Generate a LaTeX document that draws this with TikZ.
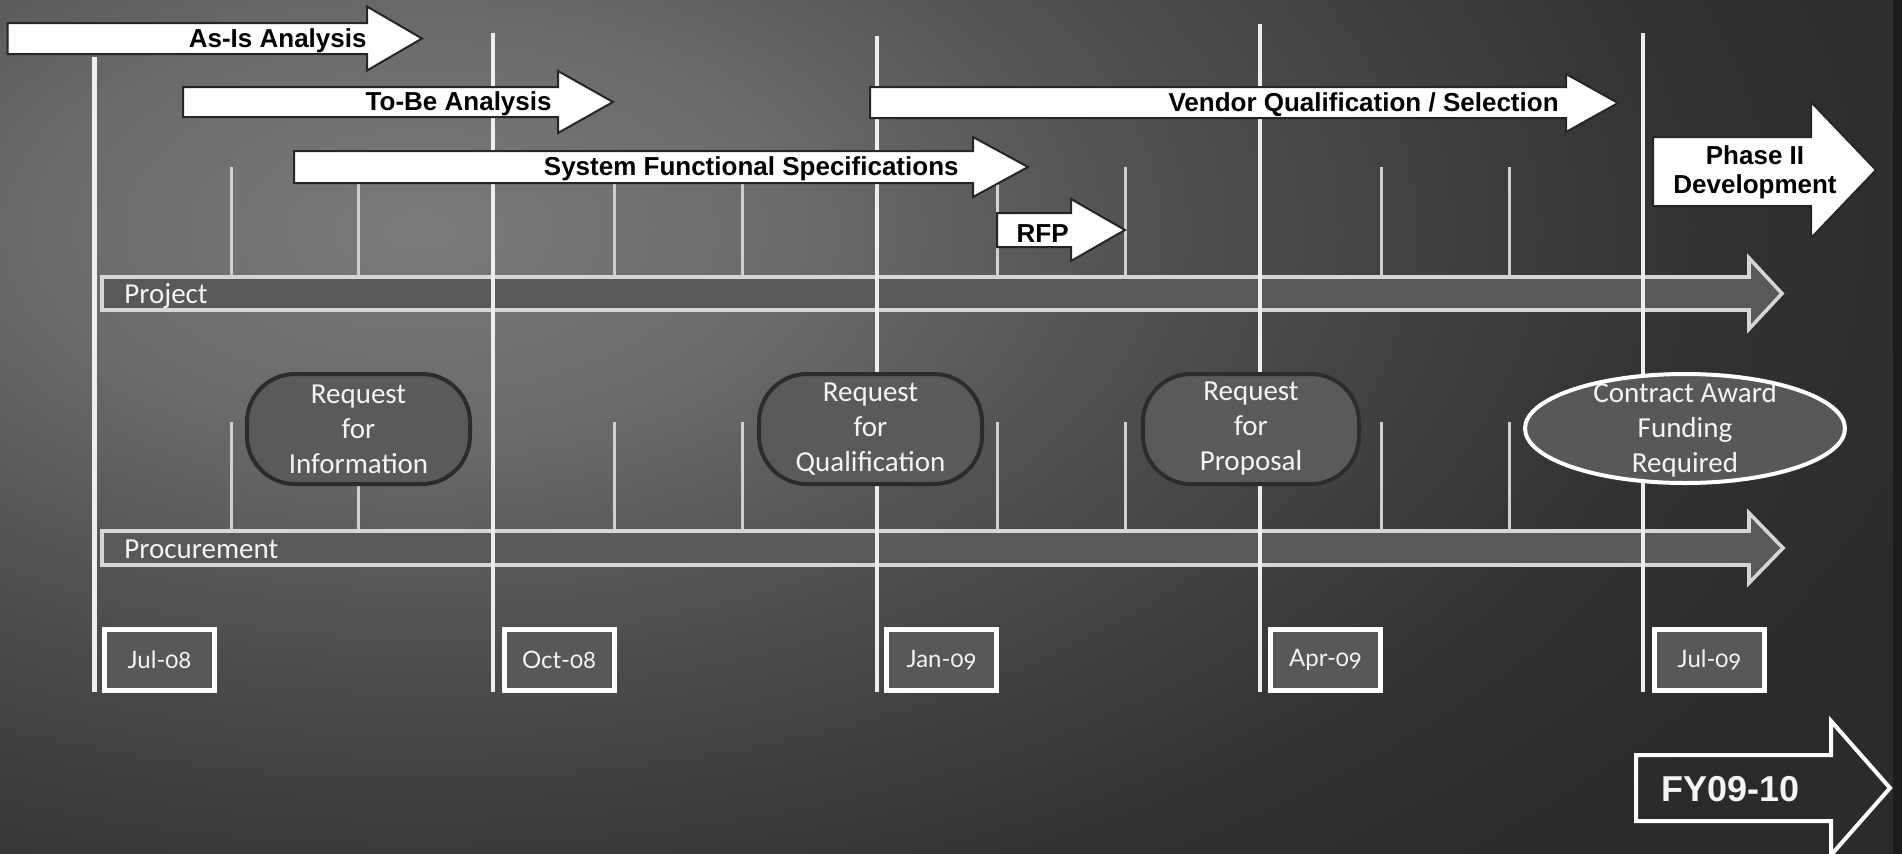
\documentclass[tikz,border=0pt]{standalone}
\usepackage{fontspec}
\setmainfont{Liberation Sans}
\newfontfamily\carl[Numbers=OldStyle]{Carlito}
\newfontfamily\datefont[Numbers=OldStyle]{Lato}
\usetikzlibrary{shapes.geometric}
\definecolor{bgA}{HTML}{7A7A7A}
\definecolor{bgB}{HTML}{6A6A6A}
\definecolor{bgC}{HTML}{4C4C4C}
\definecolor{bgD}{HTML}{323232}
\definecolor{bgE}{HTML}{2B2B2B}
\definecolor{stripc}{HTML}{1C1C1C}
\definecolor{barline}{HTML}{D6D6D6}
\definecolor{barfill}{HTML}{595959}
\definecolor{lineW}{HTML}{EEEEEE}
\definecolor{tickW}{HTML}{D0D0D0}
\definecolor{rboxline}{HTML}{2C2C2C}
\definecolor{rboxfill}{HTML}{5A5A5A}
\definecolor{dboxfill}{HTML}{585858}
\definecolor{txtW}{HTML}{F4F4F4}
\pgfdeclareradialshading{bgshade}{\pgfpoint{0bp}{0bp}}{color(0bp)=(bgA); color(6bp)=(bgB); color(12.5bp)=(bgC); color(20bp)=(bgD); color(25bp)=(bgE); color(50bp)=(bgE)}
\begin{document}
\begin{tikzpicture}[x=0.5pt,y=-0.5pt,
  wa/.style={fill=white, draw=black!85, line width=1pt, line join=miter},
  lbl/.style={font=\bfseries\fontsize{13}{15}\selectfont, text=black, inner sep=0pt},
  barstyle/.style={draw=barline, line width=1.8pt, fill=barfill, line join=miter},
  major/.style={draw=lineW, line width=2.2pt},
  minor/.style={draw=tickW, line width=1.5pt},
  rbox/.style={draw=rboxline, line width=2pt, fill=rboxfill, rounded corners=24pt,
    minimum width=111.5pt, minimum height=55pt, text=txtW, align=center,
    font=\carl\fontsize{14.5}{17.5}\selectfont, inner sep=0pt},
  dbox/.style={draw=white, line width=2.5pt, fill=dboxfill, minimum width=55pt,
    minimum height=30.5pt, text=txtW, font=\datefont\fontsize{12}{14}\selectfont, inner sep=0pt},
  barlbl/.style={text=txtW, font=\carl\fontsize{14.5}{17}\selectfont, inner sep=0pt, anchor=base west},
]
\useasboundingbox (0,0) rectangle (1902,853);
% background
\begin{scope}
\clip (-6,-6) rectangle (1908,860);
\fill[bgE] (-6,-6) rectangle (1908,860);
\shade[shading=bgshade] (420,230) ellipse [x radius=1600, y radius=880];
\fill[stripc] (1893,-6) rectangle (1908,860);
\end{scope}

% bars
\draw[barstyle] (102,277) -- (1749,277) -- (1749,258) -- (1782,293.5) -- (1749,329) -- (1749,310) -- (102,310) -- cycle;
\draw[barstyle] (102,531) -- (1749,531) -- (1749,513) -- (1783,548) -- (1749,583) -- (1749,565) -- (102,565) -- cycle;
\node[barlbl] (project) at (124,303) {Project};
\node[barlbl] (procurement) at (124,558) {Procurement};

% minor ticks
\foreach \x in {231,358,614,742,997,1125,1381,1509}{
  \draw[minor] (\x,167) -- (\x,277);
  \draw[minor] (\x,422) -- (\x,531);
}
% major lines
\draw[major] (94.5,57) -- (94.5,692);
\draw[major] (493,33) -- (493,692);
\draw[major] (877,36) -- (877,692);
\draw[major] (1260,24) -- (1260,692);
\draw[major] (1643,33) -- (1643,692);

% procurement milestones
\node[rbox] (rfi) at (358.5,429) {Request\\for\\Information};
\node[rbox] (rfq) at (870.5,429) {Request\\for\\Qualification};
\node[rbox, minimum width=108pt] (rfpbox) at (1251,429) {Request\\for\\Proposal};
\node[ellipse, draw=white, line width=2pt, fill=dboxfill, minimum width=160pt, minimum height=54.5pt, inner sep=0pt] (award) at (1685,428.5) {};
\node[text=txtW, align=center, font=\carl\fontsize{14.5}{17.5}\selectfont, inner sep=0pt] (awardtxt) at (1685,430) {Contract Award\\Funding\\Required};

% date boxes
\node[dbox] (jul08) at (159.5,660) {Jul-08};
\node[dbox] (oct08) at (559,660) {Oct-08};
\node[dbox] (jan09) at (941.5,660) {Jan-09};
\node[dbox] (apr09) at (1325.5,660) {Apr-09};
\node[dbox] (jul09) at (1709.5,660) {Jul-09};

% project arrows
\draw[wa] (7.5,23) -- (367,23) -- (367,6.5) -- (422,38.5) -- (367,70.5) -- (367,54) -- (7.5,54) -- cycle;
\node[lbl, anchor=base east] (asis) at (367,47.7) {As-Is Analysis};
\draw[wa] (183,87) -- (558,87) -- (558,71) -- (613,102) -- (558,133) -- (558,117) -- (183,117) -- cycle;
\node[lbl, anchor=base east] (tobe) at (552,110.7) {To-Be Analysis};
\draw[wa] (294,151) -- (973,151) -- (973,137) -- (1028,167) -- (973,197) -- (973,183) -- (294,183) -- cycle;
\node[lbl, anchor=base east] (sysfunc) at (959,175) {System Functional Specifications};
\draw[wa] (870,87) -- (1566,87) -- (1566,74) -- (1618,103) -- (1566,132) -- (1566,118) -- (870,118) -- cycle;
\node[lbl, anchor=base east] (vendor) at (1559,111) {Vendor Qualification / Selection};
\draw[wa] (997,213) -- (1071,213) -- (1071,199) -- (1125,230) -- (1071,261) -- (1071,247) -- (997,247) -- cycle;
\node[lbl, anchor=base east] (rfp) at (1069,242) {RFP};
\draw[wa] (1653,137) -- (1811,137) -- (1811,102) -- (1876,170) -- (1811,238) -- (1811,206) -- (1653,206) -- cycle;
\node[lbl, align=center, font=\bfseries\fontsize{13}{14.7}\selectfont] (phase) at (1755,172) {Phase II\\Development};

% FY arrow
\draw[draw=white, line width=2pt, line join=miter] (1636,755) -- (1831,755) -- (1831,721) -- (1890,788) -- (1831,855) -- (1831,821) -- (1636,821) -- cycle;
\node[font=\bfseries\fontsize{18}{20}\selectfont, text=txtW, inner sep=0pt, anchor=base west] (fy) at (1661,801) {FY09-10};
\end{tikzpicture}
\end{document}
